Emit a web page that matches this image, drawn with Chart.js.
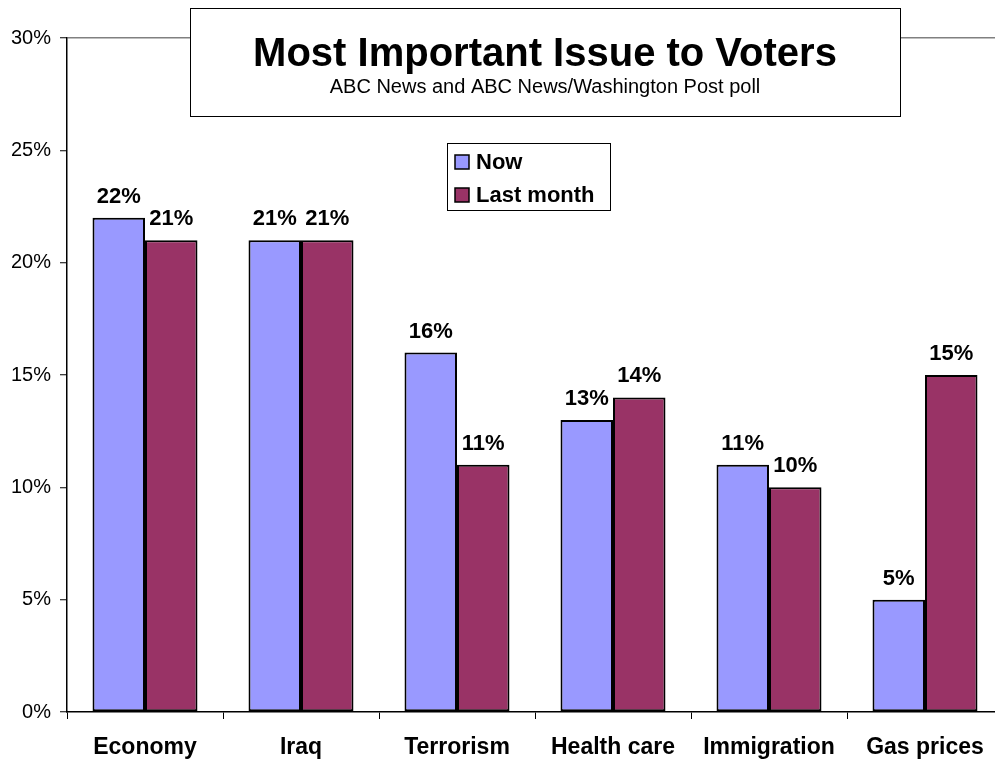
<!DOCTYPE html>
<html>
<head>
<meta charset="utf-8">
<script src="https://cdn.jsdelivr.net/npm/chart.js@4.4.1/dist/chart.umd.min.js"></script>
<style>
  html, body { margin: 0; padding: 0; background: #fff; overflow: hidden; }
  #wrap { position: relative; width: 1010px; height: 761px; }
</style>
</head>
<body>
<div id="wrap"><canvas id="issuesChart"></canvas></div>
<script>
// values (percent)
var categories = ['Economy', 'Iraq', 'Terrorism', 'Health care', 'Immigration', 'Gas prices'];
var nowValues = [22, 21, 16, 13, 11, 5];
var lastMonthValues = [21, 21, 11, 14, 10, 15];
var seriesNames = ['Now', 'Last month'];
var yTicks = [0, 5, 10, 15, 20, 25, 30];

var titleText = 'Most Important Issue to Voters';
var subtitleText = 'ABC News and ABC News/Washington Post poll';

var FONT = 'Liberation Sans, Arial, Helvetica, sans-serif';

// value labels above every bar
var barLabels = {
  id: 'barLabels',
  afterDatasetsDraw: function (chart) {
    var ctx = chart.ctx;
    ctx.save();
    ctx.font = 'bold 22px ' + FONT;
    ctx.fillStyle = '#000';
    ctx.textAlign = 'center';
    ctx.textBaseline = 'alphabetic';
    chart.data.datasets.forEach(function (ds, i) {
      var meta = chart.getDatasetMeta(i);
      meta.data.forEach(function (bar, j) {
        ctx.fillText(ds.data[j] + '%', bar.x, bar.y - 15);
      });
    });
    ctx.restore();
  }
};

// title box and legend box floating over the plot
var boxes = {
  id: 'boxes',
  afterDraw: function (chart) {
    var ctx = chart.ctx;
    ctx.save();

    // title box
    ctx.fillStyle = '#fff';
    ctx.fillRect(190, 8, 710, 108);
    ctx.strokeStyle = '#000';
    ctx.lineWidth = 1;
    ctx.strokeRect(190.5, 8.5, 710, 108);
    ctx.fillStyle = '#000';
    ctx.textAlign = 'center';
    ctx.textBaseline = 'alphabetic';
    ctx.font = 'bold 40px ' + FONT;
    ctx.fillText(titleText, 545, 66);
    ctx.font = '20px ' + FONT;
    ctx.fillText(subtitleText, 545, 93);

    // legend box
    ctx.fillStyle = '#fff';
    ctx.fillRect(447, 143, 163, 67);
    ctx.strokeStyle = '#000';
    ctx.strokeRect(447.5, 143.5, 163, 67);
    ctx.textAlign = 'left';
    ctx.font = 'bold 22px ' + FONT;
    var rows = [169, 202];
    chart.data.datasets.forEach(function (ds, i) {
      var y = rows[i];
      ctx.fillStyle = ds.backgroundColor;
      ctx.fillRect(455, y - 14, 14, 14);
      ctx.strokeStyle = '#000';
      ctx.lineWidth = 1.5;
      ctx.strokeRect(455, y - 14, 14, 14);
      ctx.fillStyle = '#000';
      ctx.fillText(ds.label, 476, y);
    });

    ctx.restore();
  }
};

var ctx = document.getElementById('issuesChart');

new Chart(ctx, {
  type: 'bar',
  data: {
    labels: categories,
    datasets: [
      {
        label: seriesNames[0],
        data: nowValues,
        backgroundColor: '#9999FF',
        borderColor: '#000',
        borderWidth: 2,
        borderSkipped: false
      },
      {
        label: seriesNames[1],
        data: lastMonthValues,
        backgroundColor: '#993366',
        borderColor: '#000',
        borderWidth: 2,
        borderSkipped: false
      }
    ]
  },
  options: {
    responsive: true,
    maintainAspectRatio: false,
    animation: false,
    categoryPercentage: 0.673,
    barPercentage: 1,
    layout: { padding: { top: 38, right: 7, left: 0, bottom: 0 } },
    plugins: {
      legend: { display: false },
      title: { display: false },
      tooltip: { enabled: false }
    },
    scales: {
      x: {
        afterFit: function (scale) { scale.height = 49; },
        grid: {
          offset: true,
          drawOnChartArea: false,
          tickLength: 7,
          tickColor: '#000',
          tickWidth: 1
        },
        border: { color: '#000', width: 1.5 },
        ticks: {
          color: '#000',
          padding: 15,
          font: { family: FONT, size: 23, weight: 'bold' }
        }
      },
      y: {
        min: 0,
        max: 30,
        afterFit: function (scale) { scale.width = 67; },
        afterBuildTicks: function (scale) {
          scale.ticks = yTicks.map(function (v) { return { value: v }; });
        },
        grid: {
          color: function (c) {
            return c.tick && c.tick.value === 30 ? '#808080' : 'rgba(0,0,0,0)';
          },
          lineWidth: 1.5,
          tickLength: 7,
          tickColor: '#000',
          tickWidth: 1
        },
        border: { color: '#000', width: 1.5 },
        ticks: {
          color: '#000',
          padding: 9,
          font: { family: FONT, size: 20 },
          callback: function (v) { return v + '%'; }
        }
      }
    }
  },
  plugins: [barLabels, boxes]
});
</script>
</body>
</html>
